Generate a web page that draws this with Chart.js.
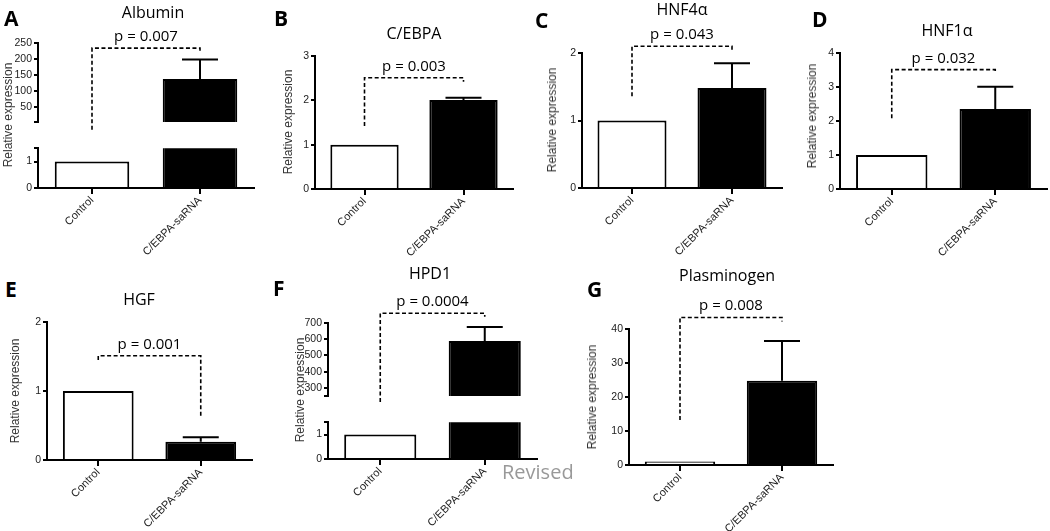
<!DOCTYPE html>
<html>
<head>
<meta charset="utf-8">
<script src="https://cdn.jsdelivr.net/npm/chart.js@4"></script>
<style>
  html, body { margin: 0; padding: 0; background: #fff; overflow: hidden; }
  #fig { position: relative; width: 1050px; height: 531px; background: #fff; }
  #fig canvas { position: absolute; }
  .txt { position: absolute; white-space: nowrap; line-height: 1; }
  .letter { font-family: 'Open Sans', sans-serif; font-weight: 700; font-size: 21px; color: #000; }
  .title { font-family: 'Open Sans', sans-serif; font-size: 16px; color: #000; }
  .ylab { font-family: 'Liberation Sans', Arial, sans-serif; font-size: 12px; color: #333; }
  .revised { font-family: 'Open Sans', sans-serif; font-size: 20px; color: #999; }
</style>
</head>
<body>
<div id="fig"></div>
<script>
// categories shared by every panel
const categories = ['Control', 'C/EBPA-saRNA'];

// A - Albumin (broken y axis)
const albuminMean = [1, 137];
const albuminSem = [0, 61];
const albuminTicksLow = [0, 1];
const albuminTicksHigh = [50, 100, 150, 200, 250];
const albuminBracket = [234, -22, 226];   // top level, left end, right end

// B - C/EBPA
const cebpaMean = [1, 2.01];
const cebpaSem = [0, 0.05];
const cebpaTicks = [0, 1, 2, 3];
const cebpaBracket = [2.51, 1.42, 2.42];

// C - HNF4a
const hnf4aMean = [1, 1.48];
const hnf4aSem = [0, 0.37];
const hnf4aTicks = [0, 1, 2];
const hnf4aBracket = [2.10, 1.36, 2.04];

// D - HNF1a
const hnf1aMean = [1, 2.35];
const hnf1aSem = [0, 0.66];
const hnf1aTicks = [0, 1, 2, 3, 4];
const hnf1aBracket = [3.51, 2.08, 3.41];

// E - HGF
const hgfMean = [1, 0.265];
const hgfSem = [0, 0.065];
const hgfTicks = [0, 1, 2];
const hgfBracket = [1.51, 1.45, 0.64];

// F - HPD1 (broken y axis)
const hpd1Mean = [1, 589];
const hpd1Sem = [0, 87];
const hpd1TicksLow = [0, 1];
const hpd1TicksHigh = [300, 400, 500, 600, 700];
const hpd1Bracket = [760, 213, 739];

// G - Plasminogen
const plasMean = [1, 24.8];
const plasSem = [0, 11.7];
const plasTicks = [0, 10, 20, 30, 40];
const plasBracket = [43.4, 13.2, 42.2];

const panelLetters = ['A', 'B', 'C', 'D', 'E', 'F', 'G'];
const panelTitles = ['Albumin', 'C/EBPA', 'HNF4α', 'HNF1α', 'HGF', 'HPD1', 'Plasminogen'];
const pLabels = ['p = 0.007', 'p = 0.003', 'p = 0.043', 'p = 0.032', 'p = 0.001', 'p = 0.0004', 'p = 0.008'];
const yTitle = 'Relative expression';

const TICK_FONT = "'Liberation Sans', Arial, sans-serif";
const fig = document.getElementById('fig');

function addCanvas(box) {
  const c = document.createElement('canvas');
  c.width = box.width;
  c.height = box.height;
  c.style.left = box.left + 'px';
  c.style.top = box.top + 'px';
  c.style.width = box.width + 'px';
  c.style.height = box.height + 'px';
  fig.appendChild(c);
  return c;
}

// error bars (upper half only) + dashed significance bracket with p value
function annotPlugin(o) {
  return {
    id: 'annot',
    afterDatasetsDraw(chart) {
      const ctx = chart.ctx;
      const xs = chart.scales.x, ys = chart.scales.y;
      const meta = chart.getDatasetMeta(0);
      ctx.save();
      if (o.sem) {
        ctx.strokeStyle = '#000';
        ctx.lineWidth = 2;
        ctx.setLineDash([]);
        meta.data.forEach(function(bar, i) {
          if (!o.sem[i]) return;
          const yTop = ys.getPixelForValue(o.mean[i] + o.sem[i]);
          ctx.beginPath();
          ctx.moveTo(bar.x, bar.y);
          ctx.lineTo(bar.x, yTop);
          ctx.moveTo(bar.x - 18, yTop);
          ctx.lineTo(bar.x + 18, yTop);
          ctx.stroke();
        });
      }
      if (o.bracket) {
        const xL = xs.getPixelForValue(0), xR = xs.getPixelForValue(1);
        const yT = ys.getPixelForValue(o.bracket[0]);
        ctx.strokeStyle = '#000';
        ctx.lineWidth = 1.6;
        ctx.setLineDash([4, 2.5]);
        ctx.beginPath();
        ctx.moveTo(xL, ys.getPixelForValue(o.bracket[1]));
        ctx.lineTo(xL, yT);
        ctx.lineTo(xR, yT);
        ctx.lineTo(xR, ys.getPixelForValue(o.bracket[2]));
        ctx.stroke();
        ctx.setLineDash([]);
        ctx.fillStyle = '#000';
        ctx.font = "15px 'Open Sans', sans-serif";
        ctx.textAlign = 'center';
        ctx.textBaseline = 'alphabetic';
        ctx.fillText(o.pText, (xL + xR) / 2, yT - 7);
      }
      ctx.restore();
    }
  };
}

function segment(o) {
  const canvas = addCanvas(o.box);
  const yw = o.plot.l - o.box.left;
  const padTop = o.plot.t - o.box.top;
  const padRight = o.box.left + o.box.width - o.plot.r;
  const below = o.box.top + o.box.height - o.plot.b;
  const tickVals = o.breakTick != null ? o.ticks.concat([o.breakTick]) : o.ticks;

  return new Chart(canvas, {
    type: 'bar',
    data: {
      labels: categories,
      datasets: [{
        data: o.mean,
        backgroundColor: ['#ffffff', '#000000'],
        borderColor: '#000',
        borderWidth: 2,
        borderSkipped: 'start',
        barPercentage: 0.69,
        categoryPercentage: 1,
        clip: 0
      }]
    },
    options: {
      responsive: false,
      animation: false,
      devicePixelRatio: 1,
      layout: { padding: { top: padTop, right: padRight, bottom: o.showX ? 0 : below, left: 0 } },
      plugins: { legend: { display: false }, tooltip: { enabled: false } },
      scales: {
        x: {
          display: o.showX,
          afterFit: function(s) { s.height = below; },
          border: { display: true, color: '#000', width: 2 },
          grid: { display: true, drawOnChartArea: false, drawTicks: true, tickLength: 6, offset: false, color: '#000', lineWidth: 2 },
          ticks: { color: '#222', font: { family: TICK_FONT, size: 11 }, minRotation: 45, maxRotation: 45, autoSkip: false, padding: 0 }
        },
        y: {
          min: o.min,
          max: o.max,
          afterBuildTicks: function(s) { s.ticks = tickVals.map(function(v) { return { value: v }; }); },
          afterFit: function(s) { s.width = yw; },
          border: { display: true, color: '#000', width: 2 },
          grid: { display: true, drawOnChartArea: false, drawTicks: true, tickLength: 4, color: '#000', lineWidth: 2 },
          ticks: {
            color: '#222',
            font: { family: TICK_FONT, size: 10.5 },
            padding: 2,
            autoSkip: false,
            callback: function(v) { return o.ticks.indexOf(v) >= 0 ? String(v) : ''; }
          }
        }
      }
    },
    plugins: [annotPlugin(o)]
  });
}

// A - Albumin
segment({ box: { left: 0, top: 25, width: 265, height: 125 }, plot: { l: 38, t: 43, r: 254, b: 136 },
  mean: albuminMean, sem: albuminSem, min: 2, max: 250, ticks: albuminTicksHigh, breakTick: 2,
  showX: false, bracket: albuminBracket, pText: pLabels[0] });
segment({ box: { left: 0, top: 140, width: 265, height: 120 }, plot: { l: 38, t: 148, r: 254, b: 188 },
  mean: albuminMean, min: 0, max: 1.5, ticks: albuminTicksLow, breakTick: 1.5, showX: true });

// B - C/EBPA
segment({ box: { left: 262, top: 40, width: 260, height: 220 }, plot: { l: 315, t: 56, r: 513, b: 189 },
  mean: cebpaMean, sem: cebpaSem, min: 0, max: 3, ticks: cebpaTicks, showX: true,
  bracket: cebpaBracket, pText: pLabels[1] });

// C - HNF4a
segment({ box: { left: 528, top: 20, width: 262, height: 240 }, plot: { l: 582, t: 53, r: 782, b: 188 },
  mean: hnf4aMean, sem: hnf4aSem, min: 0, max: 2, ticks: hnf4aTicks, showX: true,
  bracket: hnf4aBracket, pText: pLabels[2] });

// D - HNF1a
segment({ box: { left: 790, top: 40, width: 260, height: 220 }, plot: { l: 840, t: 53, r: 1047, b: 189 },
  mean: hnf1aMean, sem: hnf1aSem, min: 0, max: 4, ticks: hnf1aTicks, showX: true,
  bracket: hnf1aBracket, pText: pLabels[3] });

// E - HGF
segment({ box: { left: 0, top: 310, width: 262, height: 221 }, plot: { l: 47, t: 322, r: 252, b: 460 },
  mean: hgfMean, sem: hgfSem, min: 0, max: 2, ticks: hgfTicks, showX: true,
  bracket: hgfBracket, pText: pLabels[4] });

// F - HPD1
segment({ box: { left: 270, top: 290, width: 275, height: 130 }, plot: { l: 328, t: 323, r: 537, b: 408 },
  mean: hpd1Mean, sem: hpd1Sem, min: 250, max: 700, ticks: hpd1TicksHigh, breakTick: 250,
  showX: false, bracket: hpd1Bracket, pText: pLabels[5] });
segment({ box: { left: 270, top: 414, width: 275, height: 117 }, plot: { l: 328, t: 421, r: 537, b: 459 },
  mean: hpd1Mean, min: 0, max: 1.5, ticks: hpd1TicksLow, breakTick: 1.5, showX: true });

// G - Plasminogen
segment({ box: { left: 580, top: 290, width: 262, height: 241 }, plot: { l: 629, t: 329, r: 833, b: 465 },
  mean: plasMean, sem: plasSem, min: 0, max: 40, ticks: plasTicks, showX: true,
  bracket: plasBracket, pText: pLabels[6] });

// html text: x, baseline y
function addText(text, cls, x, baseline, size, ascent, align) {
  const d = document.createElement('div');
  d.className = 'txt ' + cls;
  d.textContent = text;
  d.style.left = x + 'px';
  d.style.top = (baseline - ascent * size) + 'px';
  if (align === 'center') d.style.transform = 'translateX(-50%)';
  fig.appendChild(d);
}
function addYLabel(cx, cy) {
  const d = document.createElement('div');
  d.className = 'txt ylab';
  d.textContent = yTitle;
  d.style.left = cx + 'px';
  d.style.top = cy + 'px';
  d.style.transform = 'translate(-50%, -50%) rotate(-90deg)';
  fig.appendChild(d);
}

const letterPos = [[4, 27], [274, 27], [535, 29], [812, 28], [5, 298], [273, 297], [587, 298]];
const titlePos = [[153, 18], [414, 39], [682, 15], [947, 36], [139, 305], [430, 279], [727, 281]];
const yLabelPos = [[8, 115], [288, 122], [552, 120], [812, 116], [15, 391], [300, 390], [592, 397]];

panelLetters.forEach(function(t, i) { addText(t, 'letter', letterPos[i][0], letterPos[i][1], 21, 0.888); });
panelTitles.forEach(function(t, i) { addText(t, 'title', titlePos[i][0], titlePos[i][1], 16, 0.888, 'center'); });
yLabelPos.forEach(function(p) { addYLabel(p[0], p[1]); });
addText('Revised', 'revised', 502, 480, 20, 0.888);
</script>
</body>
</html>
